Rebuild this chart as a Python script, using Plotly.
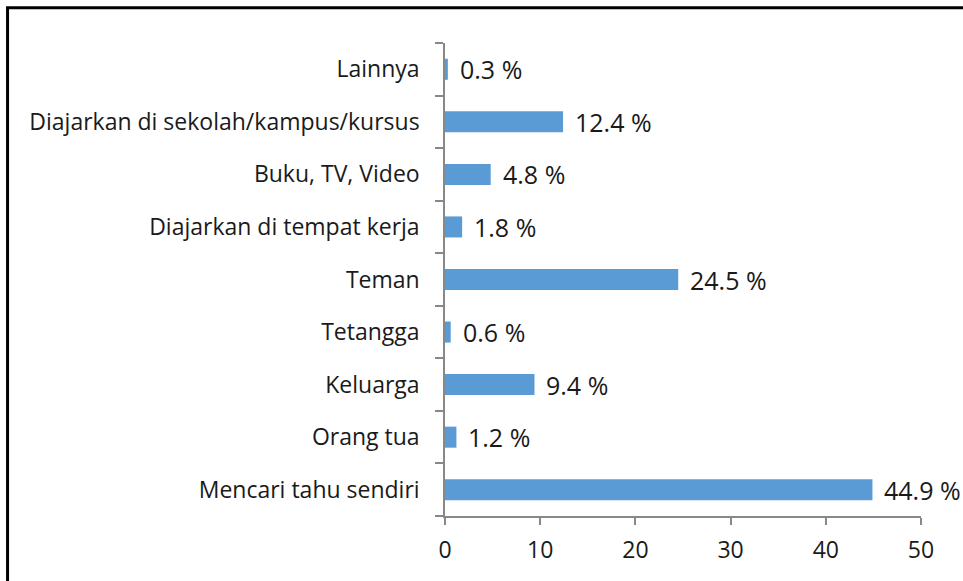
import plotly.graph_objects as go

# categories listed bottom to top, as plotly draws them
categories = [
    "Mencari tahu sendiri",
    "Orang tua",
    "Keluarga",
    "Tetangga",
    "Teman",
    "Diajarkan di tempat kerja",
    "Buku, TV, Video",
    "Diajarkan di sekolah/kampus/kursus",
    "Lainnya",
]
percent = [44.9, 1.2, 9.4, 0.6, 24.5, 1.8, 4.8, 12.4, 0.3]
x_ticks = [0, 10, 20, 30, 40, 50]

FONT = "Open Sans"
FSIZE = 23
AXIS = "#888888"
TEXT = "#1a1a1a"

fig = go.Figure()
fig.add_trace(
    go.Bar(
        x=percent,
        y=categories,
        orientation="h",
        width=0.4,
        marker=dict(color="#5b9bd5", line=dict(width=0)),
        hoverinfo="skip",
    )
)

# value labels sit a little right of each bar end
for cat, val in zip(categories, percent):
    fig.add_annotation(
        x=val,
        y=cat,
        text=f"{val:.1f} %",
        showarrow=False,
        xanchor="left",
        xshift=10,
        font=dict(family=FONT, size=25, color=TEXT),
    )

# outer frame, partly running off the page like the source picture
fig.add_shape(
    type="rect",
    xref="paper",
    yref="paper",
    x0=-0.919,
    x1=1.3,
    y0=-0.3,
    y1=1.0744,
    line=dict(color="black", width=3),
    layer="below",
)

fig.update_layout(
    width=963,
    height=581,
    margin=dict(l=445, r=42, t=43, b=65),
    paper_bgcolor="white",
    plot_bgcolor="white",
    showlegend=False,
    font=dict(family=FONT, size=FSIZE, color=TEXT),
    xaxis=dict(
        range=[0, 50],
        tickvals=x_ticks,
        showgrid=False,
        zeroline=False,
        showline=True,
        linecolor=AXIS,
        linewidth=1.5,
        ticks="outside",
        ticklen=7,
        tickcolor=AXIS,
        tickwidth=1.5,
        ticklabelstandoff=6,
        tickfont=dict(family=FONT, size=FSIZE, color=TEXT),
    ),
    yaxis=dict(
        categoryorder="array",
        categoryarray=categories,
        showgrid=False,
        zeroline=False,
        showline=True,
        linecolor=AXIS,
        linewidth=1.5,
        ticks="outside",
        tickson="boundaries",
        ticklen=8,
        tickcolor=AXIS,
        tickwidth=1.5,
        ticklabelstandoff=19,
        tickfont=dict(family=FONT, size=FSIZE, color=TEXT),
    ),
)

# drop the default page margin so the figure sits at the window corner
fig.write_html(
    "out.html",
    config={"displayModeBar": False},
    post_script="document.body.style.margin='0';",
)
